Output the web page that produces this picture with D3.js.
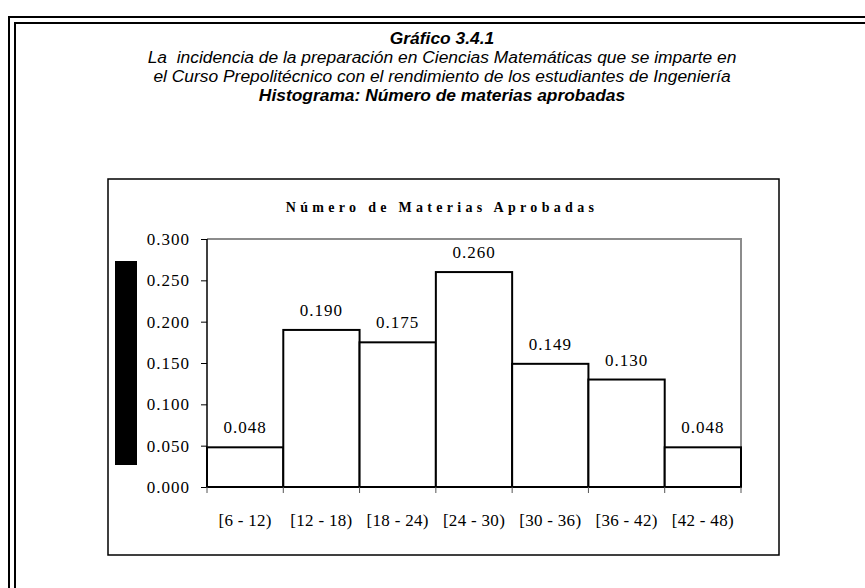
<!DOCTYPE html>
<html>
<head>
<meta charset="utf-8">
<script src="https://cdn.jsdelivr.net/npm/d3@7"></script>
<style>
  body { margin: 0; background: #fff; }
</style>
</head>
<body>
<div id="chart"></div>
<script>
var categories = ["[6 - 12)", "[12 - 18)", "[18 - 24)", "[24 - 30)", "[30 - 36)", "[36 - 42)", "[42 - 48)"]
var values = [0.048, 0.190, 0.175, 0.260, 0.149, 0.130, 0.048]
var yTicks = [0, 0.05, 0.1, 0.15, 0.2, 0.25, 0.3]

var serif = "'Liberation Serif', 'Times New Roman', serif"

var svg = d3.select("#chart")
    .append("svg")
    .attr("width", 865)
    .attr("height", 588)

// marco doble exterior
svg.append("rect")
    .attr("x", 9).attr("y", 17)
    .attr("width", 900).attr("height", 640)
    .style("fill", "none").style("stroke", "black").style("stroke-width", 2)
svg.append("rect")
    .attr("x", 15).attr("y", 23)
    .attr("width", 900).attr("height", 640)
    .style("fill", "none").style("stroke", "black").style("stroke-width", 2)

// encabezado
var head = [
  {t: "Gráfico 3.4.1", y: 44, b: true},
  {t: "La  incidencia de la preparación en Ciencias Matemáticas que se imparte en", y: 63, b: false},
  {t: "el Curso Prepolitécnico con el rendimiento de los estudiantes de Ingeniería", y: 82, b: false},
  {t: "Histograma: Número de materias aprobadas", y: 101, b: true}
]
head.forEach(h => {
  svg.append("text")
      .attr("x", 442)
      .attr("y", h.y)
      .attr("text-anchor", "middle")
      .text(h.t)
      .style("font-size", "17.4px")
      .style("font-family", "'Liberation Sans', Arial, sans-serif")
      .style("font-style", "italic")
      .style("font-weight", h.b ? "bold" : "normal")
      .style("white-space", "pre")
})

// caja del grafico
svg.append("rect")
    .attr("x", 108).attr("y", 179)
    .attr("width", 671).attr("height", 376)
    .style("fill", "white").style("stroke", "black").style("stroke-width", 1.5)

svg.append("text")
    .attr("x", 442)
    .attr("y", 212)
    .attr("text-anchor", "middle")
    .text("Número de Materias Aprobadas")
    .style("font-size", "14px")
    .style("font-family", serif)
    .style("font-weight", "bold")
    .style("letter-spacing", "4.3px")

// bloque negro a la izquierda
svg.append("rect")
    .attr("x", 115).attr("y", 261)
    .attr("width", 22).attr("height", 204)
    .style("fill", "black")

var x = d3.scaleLinear().domain([0, categories.length]).range([207, 741])
var y = d3.scaleLinear().domain([0, 0.3]).range([487, 239])

// borde gris del area
svg.append("path")
    .attr("d", "M" + x(0) + "," + y(0.3) + "H" + x(7) + "V" + y(0))
    .style("fill", "none").style("stroke", "#8c8c8c").style("stroke-width", 2)

// barras
svg.selectAll(".bar")
    .data(values)
    .enter()
    .append("rect")
    .attr("x", (d, i) => x(i))
    .attr("y", d => y(d))
    .attr("width", (d, i) => x(i + 1) - x(i))
    .attr("height", d => y(0) - y(d))
    .style("fill", "white")
    .style("stroke", "black")
    .style("stroke-width", 2)

svg.selectAll(".lbl")
    .data(values)
    .enter()
    .append("text")
    .attr("x", (d, i) => (x(i) + x(i + 1)) / 2)
    .attr("y", d => y(d) - 14)
    .attr("text-anchor", "middle")
    .text(d => d3.format(".3f")(d))
    .style("font-size", "17px")
    .style("letter-spacing", "1px")
    .style("font-family", serif)

// eje y
var yAxis = d3.axisLeft(y).tickValues(yTicks).tickFormat(d3.format(".3f")).tickSize(6).tickPadding(11)
var gy = svg.append("g").attr("transform", "translate(" + x(0) + ",0)").call(yAxis)
gy.select(".domain").attr("d", "M0," + y(0.3) + "V" + y(0)).style("stroke-width", 1.5)
gy.selectAll("text")
    .style("font-size", "17px")
    .style("letter-spacing", "1px")
    .style("font-family", serif)

// eje x
var gx = svg.append("g").attr("transform", "translate(0," + y(0) + ")")
gx.append("line")
    .attr("x1", x(0)).attr("x2", x(7))
    .style("stroke", "black").style("stroke-width", 2)
d3.range(categories.length + 1).forEach(i => {
  gx.append("line")
      .attr("x1", x(i)).attr("x2", x(i))
      .attr("y1", 0).attr("y2", 6)
      .style("stroke", "#555").style("stroke-width", 1)
})
categories.forEach((c, i) => {
  gx.append("text")
      .attr("x", (x(i) + x(i + 1)) / 2)
      .attr("y", 39)
      .attr("text-anchor", "middle")
      .text(c)
      .style("font-size", "17px")
      .style("letter-spacing", "0.3px")
      .style("font-family", serif)
})
</script>
</body>
</html>
